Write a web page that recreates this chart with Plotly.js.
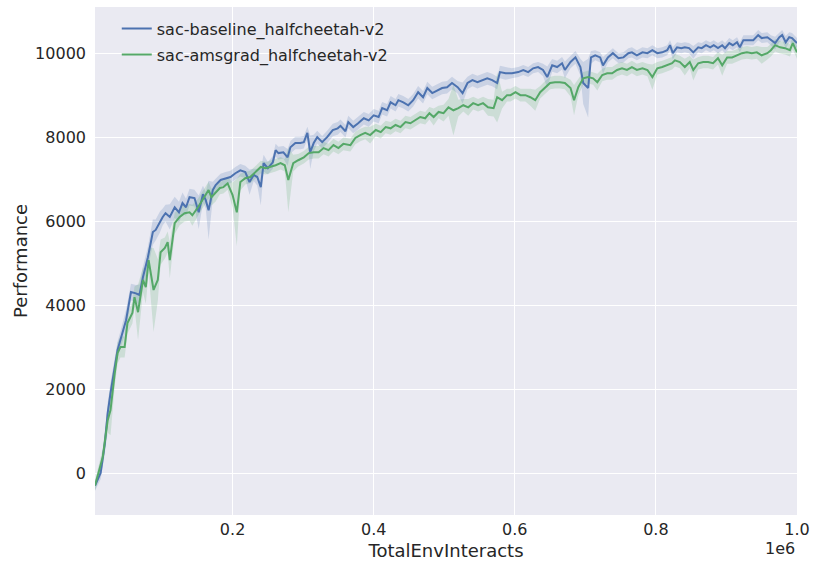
<!DOCTYPE html>
<html>
<head>
<meta charset="utf-8">
<script src="https://cdn.plot.ly/plotly-3.0.1.min.js"></script>
<style>html,body{margin:0;padding:0;background:#fff;}#chart{width:814px;height:561px;}</style>
</head>
<body>
<div id="chart"></div>
<script>
// Series names
const seriesNames = ["sac-baseline_halfcheetah-v2", "sac-amsgrad_halfcheetah-v2"];

// Baseline (blue): x in thousands of env interactions, mean performance, std
const baseX = [5,13,19,23,27,33,37,41,49,56,63,68,73,80,87,91,97,101,105,111,118,124,129,134,139,146,152,158,162,166,172,176,183,190,197,204,211,218,224,230,235,240,244,250,257,261,265,272,278,282,289,296,301,306,310,315,320,327,334,342,349,353,360,364,371,378,386,393,400,407,412,419,424,431,435,442,449,456,463,470,476,483,490,497,504,511,519,526,533,540,547,554,561,568,575,579,587,596,605,612,619,626,633,640,646,653,660,667,671,679,686,693,697,704,708,714,721,725,732,739,747,754,761,766,773,781,788,795,802,809,816,820,824,830,836,841,847,853,860,865,871,877,882,888,894,898,904,909,915,919,924,931,938,945,950,958,963,969,975,979,984,989,993,1000];
const baseY = [-300,0,714,1430,1900,2520,2930,3170,3640,4310,4280,4240,4670,5140,5740,5790,5980,6100,6190,6100,6330,6210,6430,6330,6570,6550,6210,6640,6500,6260,6740,6860,6980,7020,7050,7140,7210,7170,6930,7100,7050,6810,7380,7260,7400,7690,7620,7640,7520,7760,7860,7860,7880,8100,7640,7860,8000,7880,8000,8170,8210,8270,8140,8360,8240,8330,8450,8400,8520,8480,8690,8640,8830,8760,8880,8830,8760,8880,9070,8950,9170,9050,9120,9170,9190,9290,9190,9050,9290,9360,9310,9360,9400,9360,9290,9550,9520,9520,9550,9600,9550,9640,9670,9600,9430,9710,9670,9760,9600,9790,9900,9670,9290,9170,9900,9950,9900,9710,9900,10000,9880,9900,10000,10020,9950,10020,10000,10070,10000,10020,10070,10190,10000,10140,10120,10140,10120,10020,10140,10120,10190,10140,10190,10120,10190,10120,10240,10190,10260,10140,10310,10310,10310,10430,10360,10380,10310,10240,10380,10430,10260,10380,10360,10240];
const baseSd = [120,150,250,250,250,250,200,200,250,200,200,250,250,250,300,250,250,200,200,300,250,250,250,200,200,200,400,200,200,700,200,150,150,150,150,150,150,150,300,150,200,430,200,150,150,150,150,150,200,150,150,150,150,150,400,200,150,150,150,150,150,150,150,150,150,150,150,150,150,150,150,150,150,150,150,150,150,150,150,150,150,150,150,150,150,150,150,250,150,150,150,150,150,150,150,150,150,120,120,120,120,120,120,150,250,150,150,150,200,150,150,200,500,700,150,120,120,200,120,120,120,120,120,120,120,120,120,120,120,120,120,120,150,120,120,120,120,150,120,120,120,120,120,120,120,120,120,120,120,120,120,120,120,120,120,120,120,150,120,120,150,120,120,120];

// AMSGrad (green)
const amsX = [5,16,23,27,33,37,41,47,51,58,61,66,73,77,81,88,94,98,104,108,111,118,125,132,139,143,151,159,166,170,176,182,187,193,200,206,211,218,225,233,240,247,254,261,268,274,279,286,293,301,308,315,322,329,336,343,350,357,367,374,381,388,395,403,410,417,424,431,438,445,452,459,466,473,479,485,492,499,506,513,520,527,534,541,548,555,562,570,575,582,589,594,601,608,615,622,629,636,643,650,657,664,671,679,684,690,697,704,711,717,724,731,738,745,752,759,766,773,781,788,795,802,809,816,823,827,834,841,848,853,860,867,874,881,888,894,901,908,915,922,929,936,943,950,958,963,969,976,983,990,994,1000];
const amsY = [-300,380,1260,1500,2380,2860,3000,3000,3570,3810,4190,3830,4600,4430,5070,4360,4600,5260,5360,5500,5070,5950,6100,6190,6210,6140,6330,6550,6740,6570,6670,6790,6810,6900,6620,6210,6930,7020,7050,7170,7290,7260,7290,7330,7380,7330,6980,7380,7450,7520,7620,7640,7640,7740,7690,7810,7740,7840,7810,7980,8050,8100,8050,8170,8120,8240,8210,8290,8240,8360,8330,8400,8480,8450,8570,8480,8600,8570,8710,8640,8690,8760,8710,8810,8760,8810,8710,8690,8950,8880,9000,9000,9070,9000,9000,8950,8880,9070,9190,9290,9310,9310,9290,9170,8880,9190,9400,9430,9400,9310,9480,9520,9520,9600,9640,9600,9670,9600,9640,9600,9430,9640,9670,9710,9760,9830,9790,9670,9790,9600,9760,9790,9790,9760,9880,9710,9900,9900,9950,10000,10020,10000,10020,9950,10000,10070,10190,10140,10120,10070,10240,10020];
const amsSd = [120,200,300,600,300,250,250,250,250,250,250,660,300,400,300,1000,500,300,250,250,430,250,200,200,200,250,200,200,200,200,200,150,150,150,300,800,200,150,150,150,150,150,150,150,150,150,770,200,150,150,150,150,150,150,150,150,150,150,150,150,150,150,200,150,150,150,150,150,150,150,150,150,150,150,150,200,150,200,200,600,200,150,200,150,150,150,200,200,600,200,150,150,150,150,150,200,250,150,150,150,150,150,150,200,360,200,150,150,150,200,150,150,150,150,150,150,150,150,150,150,300,150,150,150,150,150,150,200,150,250,150,150,150,150,150,250,150,150,150,150,150,150,150,200,150,150,150,150,150,150,150,150];

// Axis ticks
const xTickVals = [200000, 400000, 600000, 800000, 1000000];
const xTickText = ["0.2", "0.4", "0.6", "0.8", "1.0"];
const yTickVals = [0, 2000, 4000, 6000, 8000, 10000];
const yTickText = ["0", "2000", "4000", "6000", "8000", "10000"];

const colors = ["#4C72B0", "#55A868"];
const fills = ["rgba(76,114,176,0.2)", "rgba(85,168,104,0.2)"];
const legendIds = ["legend", "legend2"];

const series = [
  {x: baseX, y: baseY, sd: baseSd},
  {x: amsX, y: amsY, sd: amsSd}
];

const traces = [];
series.forEach((s, i) => {
  const xs = s.x.map(v => v * 1000);
  traces.push({x: xs, y: s.y.map((v, k) => v + s.sd[k]), mode: "lines", line: {width: 0, color: colors[i]}, showlegend: false, hoverinfo: "skip"});
  traces.push({x: xs, y: s.y.map((v, k) => v - s.sd[k]), mode: "lines", line: {width: 0, color: colors[i]}, fill: "tonexty", fillcolor: fills[i], showlegend: false, hoverinfo: "skip"});
});
series.forEach((s, i) => {
  traces.push({x: s.x.map(v => v * 1000), y: s.y, mode: "lines", name: seriesNames[i], legend: legendIds[i], line: {color: colors[i], width: 2}});
});

const txt = "#262626";
const legendFont = {family: "DejaVu Sans", size: 16, color: txt};

const layout = {
  width: 814, height: 561,
  margin: {l: 95, r: 17, t: 7, b: 46, pad: 0},
  paper_bgcolor: "#ffffff",
  plot_bgcolor: "#EAEAF2",
  font: {family: "DejaVu Sans", size: 16, color: txt},
  showlegend: true,
  legend: {x: 0.031, y: 0.991, xanchor: "left", yanchor: "top", bgcolor: "rgba(0,0,0,0)", font: legendFont, traceorder: "normal"},
  legend2: {x: 0.031, y: 0.94, xanchor: "left", yanchor: "top", bgcolor: "rgba(0,0,0,0)", font: legendFont, traceorder: "normal"},
  xaxis: {
    range: [5000, 1000000],
    tickvals: xTickVals, ticktext: xTickText,
    tickfont: {family: "DejaVu Sans", size: 16, color: txt},
    ticklabelstandoff: 3,
    showgrid: true, gridcolor: "#ffffff", gridwidth: 1,
    zeroline: false, showline: false, ticks: "",
    title: {text: "TotalEnvInteracts", font: {family: "DejaVu Sans", size: 18, color: txt}, standoff: 6},
    automargin: false
  },
  yaxis: {
    range: [-1000, 11100],
    tickvals: yTickVals, ticktext: yTickText,
    tickfont: {family: "DejaVu Sans", size: 16, color: txt},
    ticklabelstandoff: 8,
    showgrid: true, gridcolor: "#ffffff", gridwidth: 1,
    zeroline: false, showline: false, ticks: "",
    title: {text: "Performance", font: {family: "DejaVu Sans", size: 18, color: txt}, standoff: 2},
    automargin: false
  },
  annotations: [{
    text: "1e6", xref: "paper", yref: "paper", x: 0.976, y: -0.065, xanchor: "center", yanchor: "middle",
    showarrow: false, font: {family: "DejaVu Sans", size: 16, color: txt}
  }]
};

Plotly.newPlot("chart", traces, layout, {displayModeBar: false, staticPlot: true});
</script>
</body>
</html>
